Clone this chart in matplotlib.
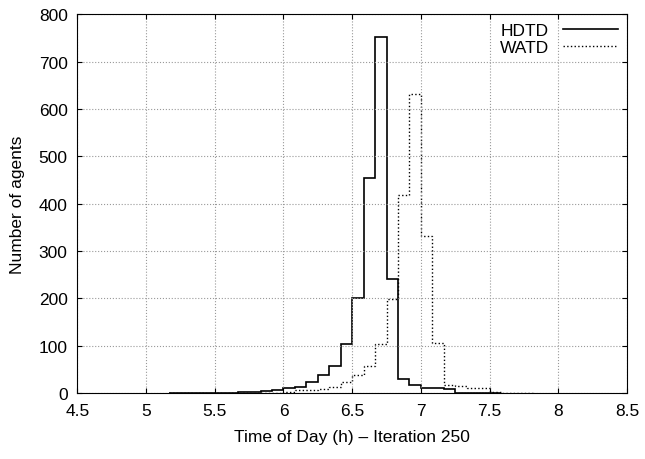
import numpy as np
import matplotlib
matplotlib.use('Agg')
import matplotlib.pyplot as plt

plt.rcParams['font.family'] = ['Liberation Sans', 'DejaVu Sans']

# 5-minute bins
bin_start = 6.5 - 16.0 / 12
bin_width = 1.0 / 12
hdtd = [0, 0, 0, 0, 1, 1, 2, 3, 4, 7, 11, 14, 23, 39, 57, 103,
        202, 455, 751, 241, 31, 17, 12, 10, 8, 0, 0, 0, 0]
watd = [0, 0, 0, 1, 1, 1, 1, 1, 1, 1, 2, 6, 7, 9, 13, 23,
        38, 57, 103, 198, 418, 632, 332, 107, 18, 16, 11, 11, 2, 1, 1, 0]

def edges(vals):
    return bin_start + bin_width * np.arange(len(vals) + 1)

fig, ax = plt.subplots(figsize=(6.45, 4.6), dpi=100)
ax.stairs(hdtd, edges(hdtd), color='black', linewidth=1.2, label='HDTD')
ax.stairs(watd, edges(watd), color='black', linewidth=1.0, linestyle=':', label='WATD')

ax.set_xlim(4.5, 8.5)
ax.set_ylim(0, 800)
ax.set_xticks(np.arange(4.5, 8.51, 0.5))
ax.set_xticklabels(['4.5', '5', '5.5', '6', '6.5', '7', '7.5', '8', '8.5'])
ax.set_yticks(np.arange(0, 801, 100))
ax.grid(True, color='#999999', linestyle=':', linewidth=0.8)
ax.tick_params(direction='in', labelsize=12.5, top=True, right=True, pad=7)
ax.set_xlabel('Time of Day (h) – Iteration 250', fontsize=12.5, labelpad=8)
ax.set_ylabel('Number of agents', fontsize=12.5, labelpad=10)

leg = ax.legend(loc='upper right', frameon=False, fontsize=12.5, handlelength=3.2,
                markerfirst=False, borderaxespad=0.1, labelspacing=0.1)

fig.subplots_adjust(left=0.12, right=0.972, top=0.967, bottom=0.143)
fig.savefig('out.png')
